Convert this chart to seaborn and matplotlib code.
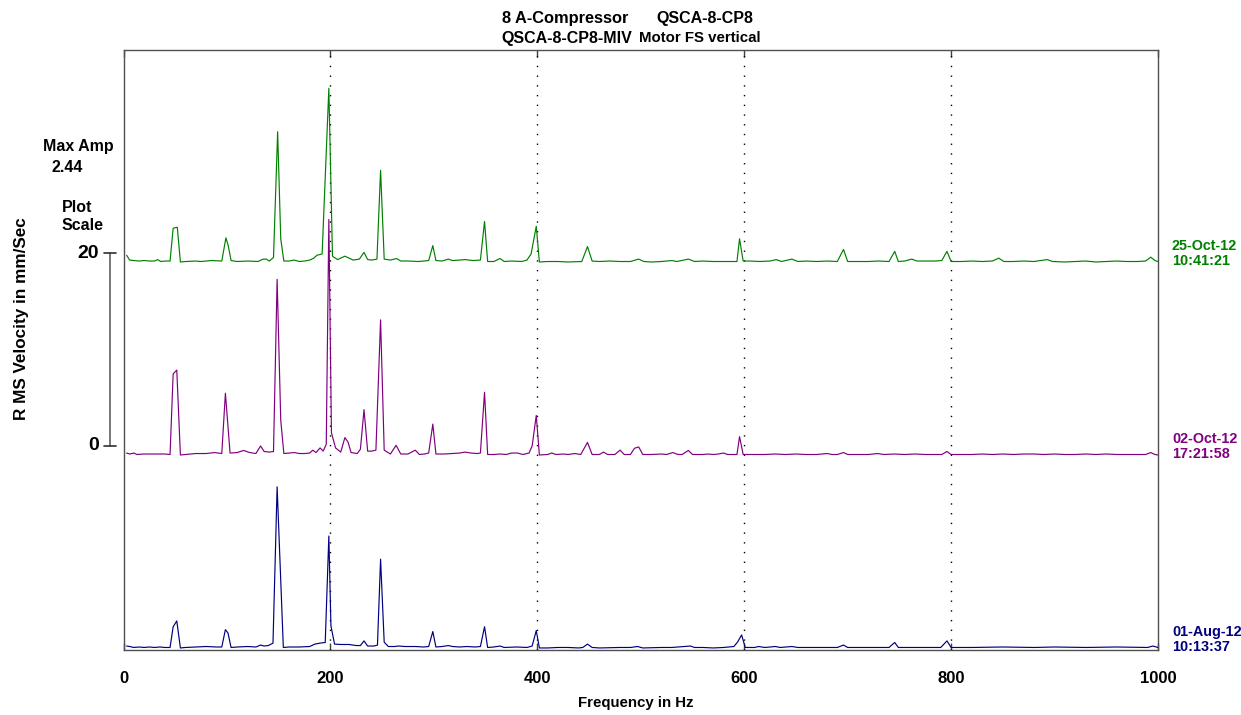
import numpy as np
import pandas as pd
import matplotlib
matplotlib.use("Agg")
import matplotlib.pyplot as plt
import matplotlib.transforms as mtransforms
import seaborn as sns

# ---------------- data (RMS velocity, mm/s) ----------------
green_freq = [3, 6, 10, 15, 20, 25, 30, 33, 36, 40, 45, 48, 52, 55, 60, 70, 75, 85, 95, 99, 101, 104, 110, 120, 130,
              135, 138, 141, 145, 149, 152, 155, 160, 165, 170, 175, 180, 184, 187, 192, 198.5, 202, 207, 214, 218,
              222, 228, 232.5, 236, 240, 245, 248.5, 252, 258, 264, 268, 275, 285, 295, 299, 302, 308, 314, 318, 325,
              330, 338, 345, 349, 352, 358, 364, 368, 375, 385, 390, 394, 399, 402, 410, 420, 430, 443, 448.5, 453,
              460, 470, 480, 490, 498, 503, 510, 520, 530, 535, 546, 552, 560, 570, 580, 593, 595.5, 599, 605, 615,
              625, 631, 636, 646, 652, 660, 670, 680, 690, 696, 700, 710, 720, 730, 740, 745.5, 749, 755, 762, 767,
              775, 785, 791, 796, 800, 810, 820, 830, 840, 846, 851, 860, 870, 880, 893, 898, 910, 920, 930, 940, 950,
              960, 970, 980, 988, 993, 997, 1000]
green_amp = [0.07, 0.02, 0.015, 0.01, 0.015, 0.01, 0.01, 0.025, 0.005, 0.01, 0.01, 0.35, 0.36, 0.0, 0.005, 0.01,
             0.005, 0.015, 0.01, 0.25, 0.18, 0.015, 0.005, 0.01, 0.005, 0.03, 0.03, 0.01, 0.047, 1.35, 0.24, 0.01,
             0.01, 0.02, 0.005, 0.01, 0.02, 0.04, 0.07, 0.083, 1.80, 0.06, 0.025, 0.06, 0.04, 0.02, 0.03, 0.10, 0.025,
             0.02, 0.03, 0.95, 0.03, 0.02, 0.036, 0.01, 0.01, 0.005, 0.015, 0.17, 0.015, 0.01, 0.03, 0.015, 0.02,
             0.025, 0.015, 0.02, 0.42, 0.005, 0.005, 0.036, 0.005, 0.01, 0.005, 0.02, 0.083, 0.37, 0.0, 0.005, 0.005,
             0.0, 0.005, 0.16, 0.01, 0.005, 0.01, 0.005, 0.005, 0.03, 0.005, 0.0, 0.005, 0.015, 0.005, 0.03, 0.005,
             0.01, 0.005, 0.005, 0.005, 0.24, 0.01, 0.01, 0.005, 0.01, 0.025, 0.005, 0.03, 0.005, 0.01, 0.005, 0.01,
             0.005, 0.13, 0.005, 0.005, 0.005, 0.01, 0.005, 0.11, 0.005, 0.01, 0.03, 0.01, 0.01, 0.01, 0.015, 0.11,
             0.005, 0.005, 0.01, 0.005, 0.01, 0.04, 0.005, 0.005, 0.01, 0.005, 0.025, 0.005, 0.0, 0.005, 0.01, 0.0,
             0.005, 0.01, 0.005, 0.005, 0.01, 0.05, 0.015, 0.005]

purple_freq = [3, 6, 10, 13, 20, 30, 40, 45, 48, 51.5,
               55, 60, 70, 80, 88, 95, 98.5, 103, 110, 116,
               122, 128, 132.5, 136, 141, 145, 148.5, 152, 155, 160,
               165, 170, 175, 180, 183, 186, 190, 193, 196, 198.5,
               201, 205, 210, 214, 217, 220, 226, 229, 232.5, 236,
               240, 244, 248.5, 252, 258, 263.5, 268, 275, 282, 286,
               291, 295, 299, 302, 310, 318, 325, 330, 336, 342,
               345, 349, 352, 358, 364, 370, 375, 381, 386, 392,
               395, 399, 402, 410, 414, 418, 425, 430, 436, 442,
               448.5, 453, 460, 464, 468, 475, 480, 484, 490, 494,
               498, 502, 510, 520, 525, 531, 536, 540, 546, 550,
               560, 565, 570, 575, 580, 584, 593, 595.5, 599, 610,
               620, 630, 640, 650, 660, 670, 680, 685, 690, 696,
               700, 710, 720, 729, 735, 745, 755, 765, 775, 785,
               791, 796, 800, 810, 820, 830, 840, 850, 860, 870,
               880, 890, 900, 910, 920, 930, 940, 950, 960, 970,
               980, 988, 993, 997, 1000]
purple_amp = [0.02, 0.01, 0.02, 0.005, 0.01, 0.01, 0.01, 0.005, 0.84, 0.88,
              0.0, 0.005, 0.015, 0.015, 0.025, 0.015, 0.64, 0.02, 0.025, 0.047,
              0.025, 0.015, 0.093, 0.036, 0.03, 0.036, 1.82, 0.36, 0.015, 0.02,
              0.025, 0.015, 0.015, 0.02, 0.05, 0.025, 0.073, 0.04, 0.11, 2.44,
              0.23, 0.073, 0.03, 0.18, 0.135, 0.025, 0.015, 0.06, 0.47, 0.04,
              0.04, 0.05, 1.40, 0.05, 0.01, 0.10, 0.01, 0.01, 0.05, 0.005,
              0.01, 0.02, 0.32, 0.01, 0.01, 0.015, 0.02, 0.03, 0.02, 0.015,
              0.02, 0.65, 0.005, 0.005, 0.01, 0.005, 0.02, 0.02, 0.005, 0.02,
              0.093, 0.41, 0.0, 0.005, 0.02, 0.005, 0.01, 0.005, 0.015, 0.005,
              0.13, 0.005, 0.005, 0.03, 0.005, 0.005, 0.05, 0.005, 0.005, 0.07,
              0.083, 0.005, 0.005, 0.01, 0.005, 0.025, 0.005, 0.005, 0.047, 0.005,
              0.005, 0.01, 0.005, 0.01, 0.02, 0.005, 0.005, 0.19, 0.005, 0.005,
              0.005, 0.01, 0.005, 0.01, 0.005, 0.005, 0.015, 0.005, 0.005, 0.025,
              0.005, 0.005, 0.005, 0.015, 0.005, 0.01, 0.005, 0.01, 0.005, 0.005,
              0.005, 0.036, 0.005, 0.005, 0.005, 0.01, 0.005, 0.01, 0.005, 0.01,
              0.01, 0.005, 0.01, 0.005, 0.005, 0.01, 0.005, 0.01, 0.005, 0.005,
              0.005, 0.005, 0.025, 0.005, 0.0]

blue_freq = [3, 6, 10, 15, 20, 25, 30, 35, 40, 45,
             48, 51.5, 55, 60, 70, 80, 90, 95, 98.5, 101,
             104, 110, 120, 128, 132.5, 136, 140, 144.5, 148.5, 154.5,
             160, 170, 180, 185, 190, 195, 198.5, 200.5, 204, 210,
             218, 225, 229, 232.5, 236, 242, 245.5, 248.5, 252, 256,
             262, 266, 272, 282, 290, 295, 299, 302, 308, 314,
             318, 325, 332, 340, 345, 349, 352, 358, 364, 368,
             380, 390, 395, 399, 402, 410, 420, 430, 440, 444,
             448.5, 453, 460, 480, 490, 497, 502, 520, 530, 548,
             552, 560, 570, 580, 590, 593.5, 597.5, 601, 610, 614,
             620, 630, 635, 646, 652, 670, 680, 690, 696, 700,
             720, 740, 745.5, 749, 770, 790, 796, 800, 820, 850,
             880, 900, 930, 960, 990, 995, 1000]
blue_amp = [0.02, 0.015, 0.005, 0.01, 0.005, 0.01, 0.005, 0.01, 0.005, 0.005,
            0.22, 0.28, 0.0, 0.005, 0.01, 0.015, 0.01, 0.01, 0.19, 0.155,
            0.005, 0.01, 0.015, 0.01, 0.03, 0.02, 0.025, 0.05, 1.67, 0.005,
            0.01, 0.01, 0.015, 0.04, 0.05, 0.057, 1.16, 0.23, 0.04, 0.036,
            0.036, 0.025, 0.025, 0.073, 0.02, 0.02, 0.03, 0.92, 0.06, 0.015,
            0.015, 0.02, 0.015, 0.015, 0.01, 0.015, 0.17, 0.01, 0.015, 0.025,
            0.015, 0.01, 0.015, 0.01, 0.015, 0.22, 0.005, 0.01, 0.02, 0.005,
            0.01, 0.005, 0.02, 0.18, 0.0, 0.0, 0.005, 0.005, 0.0, 0.005,
            0.04, 0.005, 0.0, 0.005, 0.005, 0.015, 0.0, 0.005, 0.005, 0.02,
            0.005, 0.005, 0.0, 0.005, 0.015, 0.06, 0.135, 0.005, 0.005, 0.015,
            0.005, 0.015, 0.005, 0.015, 0.005, 0.005, 0.005, 0.005, 0.03, 0.005,
            0.005, 0.005, 0.057, 0.005, 0.005, 0.005, 0.073, 0.005, 0.005, 0.01,
            0.005, 0.01, 0.005, 0.01, 0.005, 0.02, 0.005]

trace_labels = ["01-Aug-12\n10:13:37", "02-Oct-12\n17:21:58", "25-Oct-12\n10:41:21"]
trace_colors = ["#000080", "#800080", "#008000"]
trace_offsets = [0, 20, 40]          # waterfall offset in plot-scale units
plot_scale_per_mmps = 10             # plot-scale units per mm/s
x_ticks = [0, 200, 400, 600, 800, 1000]
harmonic_lines = [200, 400, 600, 800]
max_amp_text = "2.44"
scale_ticks = [0, 20]

assert len(green_freq) == len(green_amp), (len(green_freq), len(green_amp))
assert len(purple_freq) == len(purple_amp), (len(purple_freq), len(purple_amp))
assert len(blue_freq) == len(blue_amp), (len(blue_freq), len(blue_amp))

# ---------------- style ----------------
sns.set_style("white")
plt.rcParams["font.family"] = ["Liberation Sans", "DejaVu Sans"]
plt.rcParams["font.weight"] = "bold"
plt.rcParams["text.color"] = "black"
plt.rcParams["axes.labelcolor"] = "black"
plt.rcParams["xtick.color"] = "black"

W, H = 1241, 715
L, R, T, B = 123.5, 1158, 50, 649.5
fig = plt.figure(figsize=(W / 100, H / 100), dpi=100)
fig.patch.set_facecolor("white")
ax = fig.add_axes([L / W, 1 - B / H, (R - L) / W, (B - T) / H])

frames = []
for lab, fr, am, off in zip(trace_labels, [blue_freq, purple_freq, green_freq],
                            [blue_amp, purple_amp, green_amp], trace_offsets):
    d = pd.DataFrame({"freq": fr, "amp": am})
    d["trace"] = lab
    d["y"] = d["amp"] * plot_scale_per_mmps + off
    frames.append(d)
df = pd.concat(frames, ignore_index=True)
palette = dict(zip(trace_labels, trace_colors))

for xv in harmonic_lines:
    ax.axvline(xv, color="black", lw=1.0, ls=(0, (1, 6)), zorder=1)

sns.lineplot(data=df, x="freq", y="y", hue="trace", palette=palette, estimator=None,
             sort=False, legend=False, lw=0.85, ax=ax, zorder=3)

ax.set_xlim(0, 1000)
ax.set_ylim(-0.16, 61.97)
ax.set_xticks(x_ticks)
ax.set_xticklabels([str(t) for t in x_ticks])
ax.set_yticks([])
ax.tick_params(axis="x", direction="in", length=5, width=1, color="#404040", labelcolor="black",
               top=True, bottom=True, labelsize=12, pad=15.5)
for s in ax.spines.values():
    s.set_color("#505050")
    s.set_linewidth(1.0)

ax.set_xlabel("Frequency in Hz", fontsize=10.8, fontweight="bold", color="black")
ax.xaxis.label.set_va("center")
ax.xaxis.set_label_coords((636 - L) / (R - L), (B - 703) / (B - T))
ax.set_ylabel("R MS Velocity in mm/Sec", fontsize=12.3, fontweight="bold", color="black")
ax.yaxis.label.set_va("center")
ax.yaxis.set_label_coords((22 - L) / (R - L), (B - 319) / (B - T))

trans = mtransforms.blended_transform_factory(ax.transAxes, ax.transData)
def axx(px):
    return (px - L) / (R - L)

# trace date labels
for lab, col, off in zip(trace_labels, trace_colors, trace_offsets):
    ax.text(axx(1172), off + 0.85, lab, transform=trans, ha="left", va="center", color=col,
            fontsize=10.4, fontweight="bold", linespacing=1.1, clip_on=False)

# plot scale bar
y0 = 20.93
bar_lo, bar_hi = y0 + scale_ticks[0], y0 + scale_ticks[1]
ax.plot([axx(110), axx(110)], [bar_lo, bar_hi], transform=trans, color="#606060", lw=1.2, clip_on=False)
for yv, t in zip([bar_lo, bar_hi], scale_ticks):
    ax.plot([axx(104), axx(116)], [yv, yv], transform=trans, color="#303030", lw=1.2, clip_on=False)
    ax.text(axx(99), yv, str(t), transform=trans, ha="right", va="center", fontsize=14,
            fontweight="bold", color="black", clip_on=False)

def fx(px):
    return px / W
def fy(py):
    return 1 - py / H

side = dict(ha="left", va="center", fontsize=11.5, fontweight="bold", color="black")
fig.text(fx(43), fy(147), "Max Amp", **side)
fig.text(fx(51), fy(168), max_amp_text, **side)
fig.text(fx(62), fy(207), "Plot", **side)
fig.text(fx(62), fy(226), "Scale", **side)

tfont = dict(fontweight="bold", va="center", ha="center", color="black")
fig.text(fx(565), fy(18), "8 A-Compressor", fontsize=11.8, **tfont)
fig.text(fx(705), fy(18), "QSCA-8-CP8", fontsize=11.5, **tfont)
fig.text(fx(567), fy(38), "QSCA-8-CP8-MIV", fontsize=11.5, **tfont)
fig.text(fx(700), fy(38), "Motor FS vertical", fontsize=10.8, **tfont)

fig.savefig("out.png", dpi=100, facecolor="white")
